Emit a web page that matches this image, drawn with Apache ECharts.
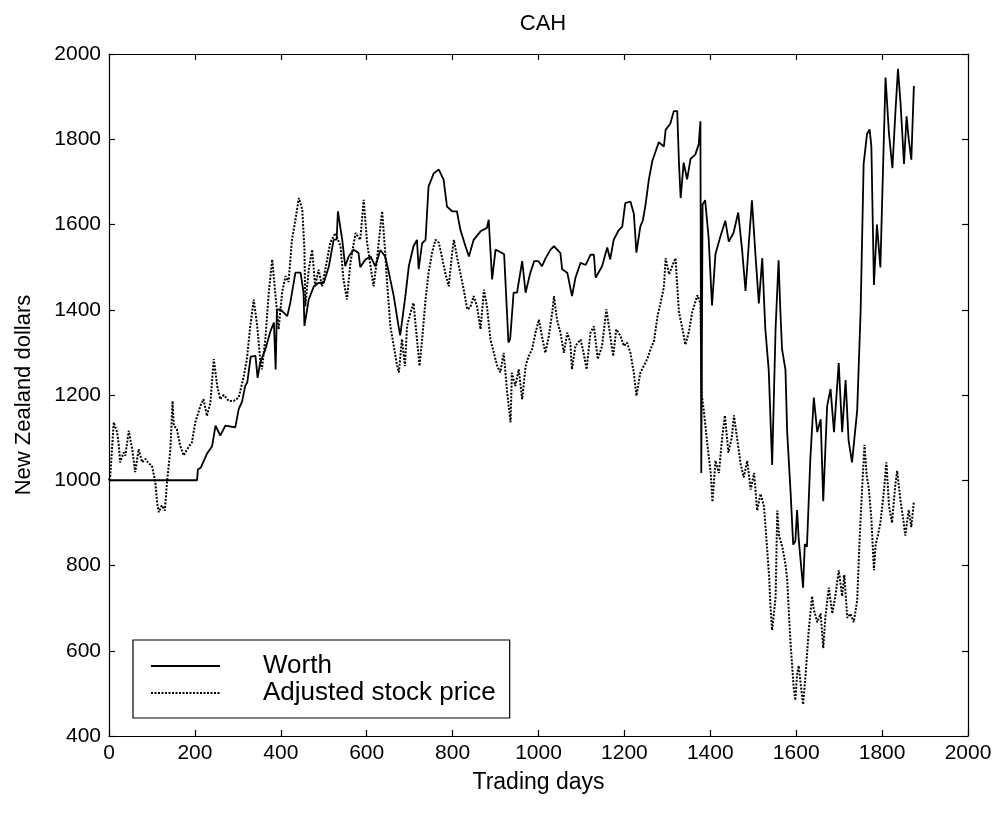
<!DOCTYPE html>
<html>
<head>
<meta charset="utf-8">
<script src="https://cdn.jsdelivr.net/npm/echarts@6/dist/echarts.min.js"></script>
<style>html,body{margin:0;padding:0;background:#fff}#c{width:1006px;height:814px}</style>
</head>
<body>
<div id="c"></div>
<script>
const chartTitle = "CAH";
const xTicks = [0,200,400,600,800,1000,1200,1400,1600,1800,2000];
const yTicks = [400,600,800,1000,1200,1400,1600,1800,2000];

const worthDays = [0,205,207,214,228,240,248,259,271,294,302,310,317,322,330,341,346,352,364,376,384,388,391,399,415,422,434,446,453,455,465,477,488,500,512,523,530,533,543,550,558,570,581,585,597,609,620,632,643,651,663,674,678,690,698,709,717,721,729,737,744,756,768,779,787,799,810,818,830,838,849,865,880,884,892,900,912,920,930,934,942,950,962,970,981,990,1000,1008,1016,1028,1036,1051,1055,1067,1078,1086,1098,1110,1121,1129,1133,1148,1160,1167,1175,1187,1195,1202,1214,1222,1228,1237,1243,1249,1257,1265,1280,1292,1296,1307,1315,1323,1327,1331,1338,1346,1354,1365,1373,1377,1379,1382,1388,1396,1404,1412,1423,1435,1443,1454,1465,1474,1482,1490,1497,1505,1513,1521,1528,1536,1544,1552,1559,1563,1567,1575,1579,1587,1593,1598,1602,1606,1616,1620,1625,1633,1641,1649,1657,1663,1672,1680,1688,1699,1707,1715,1722,1730,1742,1750,1757,1765,1771,1775,1781,1788,1796,1800,1808,1816,1824,1831,1837,1843,1851,1857,1862,1868,1874];
const worthVals = [1000,1000,1025,1030,1062,1080,1128,1105,1128,1124,1167,1185,1221,1230,1290,1292,1240,1276,1307,1350,1370,1260,1400,1401,1385,1416,1487,1487,1440,1362,1424,1455,1463,1463,1502,1564,1565,1631,1564,1502,1525,1541,1533,1500,1518,1525,1502,1540,1525,1490,1432,1362,1340,1432,1502,1549,1564,1495,1556,1564,1689,1720,1729,1705,1642,1631,1631,1588,1549,1525,1564,1584,1592,1611,1471,1541,1535,1530,1323,1331,1440,1440,1514,1440,1487,1514,1514,1502,1520,1541,1549,1533,1495,1487,1432,1475,1510,1505,1529,1529,1475,1502,1546,1518,1564,1587,1595,1650,1654,1625,1534,1595,1610,1645,1706,1749,1793,1783,1822,1837,1866,1866,1745,1662,1745,1706,1754,1764,1788,1842,1017,1647,1657,1570,1410,1531,1570,1609,1560,1580,1628,1541,1444,1560,1657,1531,1415,1521,1356,1259,1036,1356,1516,1400,1308,1259,1113,971,849,857,930,860,748,850,844,1052,1194,1113,1143,951,1174,1214,1113,1275,1113,1235,1093,1042,1164,1397,1742,1813,1823,1783,1458,1600,1499,1651,1945,1813,1732,1864,1965,1884,1742,1854,1800,1752,1925];

const priceDays = [0,3,11,19,23,26,34,38,46,54,61,69,77,85,92,100,108,112,116,123,130,135,143,148,151,158,166,174,182,193,201,213,220,228,236,244,252,259,267,279,290,302,306,314,321,329,337,345,352,356,364,372,380,387,395,403,411,418,426,434,442,450,455,457,465,473,480,488,496,508,515,527,539,546,554,562,574,585,593,601,609,616,624,632,636,642,647,655,663,671,675,682,689,694,702,709,717,723,729,737,744,752,760,768,775,783,791,799,803,810,818,826,834,841,849,857,865,873,880,888,896,904,911,919,927,935,938,946,954,962,970,977,985,993,1001,1008,1016,1024,1032,1036,1043,1051,1059,1067,1074,1078,1086,1098,1105,1112,1121,1129,1138,1148,1158,1166,1174,1181,1191,1199,1206,1214,1222,1228,1237,1245,1253,1261,1269,1277,1284,1292,1296,1304,1311,1319,1327,1335,1342,1350,1358,1370,1377,1380,1385,1393,1401,1405,1412,1420,1428,1434,1442,1450,1455,1463,1471,1478,1486,1494,1502,1509,1517,1525,1530,1537,1540,1544,1552,1556,1560,1568,1575,1579,1583,1587,1594,1598,1602,1606,1610,1616,1622,1629,1637,1641,1649,1657,1663,1668,1676,1684,1691,1699,1707,1712,1719,1726,1734,1742,1748,1754,1759,1764,1769,1775,1781,1785,1790,1796,1804,1810,1816,1823,1831,1835,1843,1849,1854,1862,1868,1874];
const priceVals = [1000,1011,1136,1112,1081,1042,1065,1058,1116,1073,1019,1073,1042,1050,1040,1034,995,948,925,941,929,995,1073,1186,1128,1120,1080,1058,1073,1089,1136,1175,1190,1151,1182,1284,1221,1190,1200,1186,1186,1194,1190,1245,1284,1362,1424,1362,1284,1260,1331,1440,1518,1440,1354,1440,1479,1465,1564,1611,1662,1635,1541,1408,1494,1541,1455,1494,1455,1518,1557,1580,1549,1471,1424,1510,1580,1564,1658,1557,1502,1455,1518,1596,1631,1549,1471,1362,1315,1268,1253,1331,1268,1362,1393,1416,1331,1268,1330,1424,1486,1533,1564,1557,1525,1486,1455,1533,1564,1525,1486,1447,1401,1405,1432,1408,1354,1447,1408,1331,1299,1268,1253,1299,1206,1136,1252,1221,1260,1190,1268,1291,1307,1346,1377,1338,1299,1338,1393,1432,1377,1346,1299,1346,1323,1260,1315,1330,1299,1260,1346,1361,1284,1315,1401,1346,1291,1354,1338,1315,1323,1299,1252,1198,1252,1268,1284,1308,1327,1385,1415,1453,1521,1483,1502,1521,1395,1356,1318,1347,1395,1434,1415,1201,1162,1085,1017,949,1046,1017,1104,1152,1065,1100,1152,1094,1036,1007,1046,978,1017,929,968,939,871,774,706,648,725,929,871,842,803,768,687,616,515,484,545,565,525,474,545,646,728,697,667,687,606,680,748,687,728,789,728,778,677,687,667,718,870,991,1083,1012,981,910,789,849,870,900,971,1042,941,900,991,1022,951,910,870,930,890,951];

const worthData = worthDays.map((d, i) => [d, worthVals[i]]);
const priceData = priceDays.map((d, i) => [d, priceVals[i]]);

const FONT = 'Liberation Sans';
const chart = echarts.init(document.getElementById('c'));
const axisCommon = {
  axisLine: {show: true, onZero: false, lineStyle: {color: '#000', width: 1.2}},
  axisTick: {show: true, inside: true, length: 6, lineStyle: {color: '#000', width: 1.2}},
  splitLine: {show: false}
};
const plain = v => String(v);
chart.setOption({
  animation: false,
  backgroundColor: '#fff',
  title: {text: chartTitle, left: 538, textAlign: 'center', top: 8,
    textStyle: {fontFamily: FONT, fontWeight: 'normal', fontSize: 22, color: '#000'}},
  grid: {left: 109, right: 38, top: 54, bottom: 78},
  legend: {
    left: 133, top: 640, orient: 'vertical',
    data: ['Worth', 'Adjusted stock price'],
    borderColor: '#000', borderWidth: 1.2,
    padding: [13, 14, 12, 17], itemGap: 1, itemWidth: 69, itemHeight: 20,
    itemStyle: {opacity: 0},
    formatter: n => '{t|' + n + '}',
    textStyle: {fontFamily: FONT, fontSize: 26, color: '#000',
      rich: {t: {fontFamily: FONT, fontSize: 26, lineHeight: 24, color: '#000', padding: [0, 0, 0, 38]}}}
  },
  xAxis: [
    Object.assign({type: 'value', min: 0, max: 2000, interval: 200, position: 'bottom',
      name: 'Trading days', nameLocation: 'middle', nameGap: 35,
      nameTextStyle: {fontFamily: FONT, fontSize: 23, color: '#000'},
      axisLabel: {fontFamily: FONT, fontSize: 21, color: '#000', margin: 7, formatter: plain}}, axisCommon),
    Object.assign({type: 'value', min: 0, max: 2000, interval: 200, position: 'top',
      axisLabel: {show: false}}, axisCommon)
  ],
  yAxis: [
    Object.assign({type: 'value', min: 400, max: 2000, interval: 200, position: 'left',
      name: 'New Zealand dollars', nameLocation: 'middle', nameGap: 74,
      nameTextStyle: {fontFamily: FONT, fontSize: 22, color: '#000'},
      axisLabel: {fontFamily: FONT, fontSize: 21, color: '#000', margin: 8, formatter: plain}}, axisCommon),
    Object.assign({type: 'value', min: 400, max: 2000, interval: 200, position: 'right',
      axisLabel: {show: false}}, axisCommon)
  ],
  series: [
    {name: 'Worth', type: 'line', data: worthData, showSymbol: false, symbol: 'none',
      lineStyle: {color: '#000', width: 1.8, type: 'solid'}, itemStyle: {color: '#000'}},
    {name: 'Adjusted stock price', type: 'line', data: priceData, showSymbol: false, symbol: 'none',
      lineStyle: {color: '#000', width: 2, type: [2, 1.5]}, itemStyle: {color: '#000'}}
  ]
});
</script>
</body>
</html>
